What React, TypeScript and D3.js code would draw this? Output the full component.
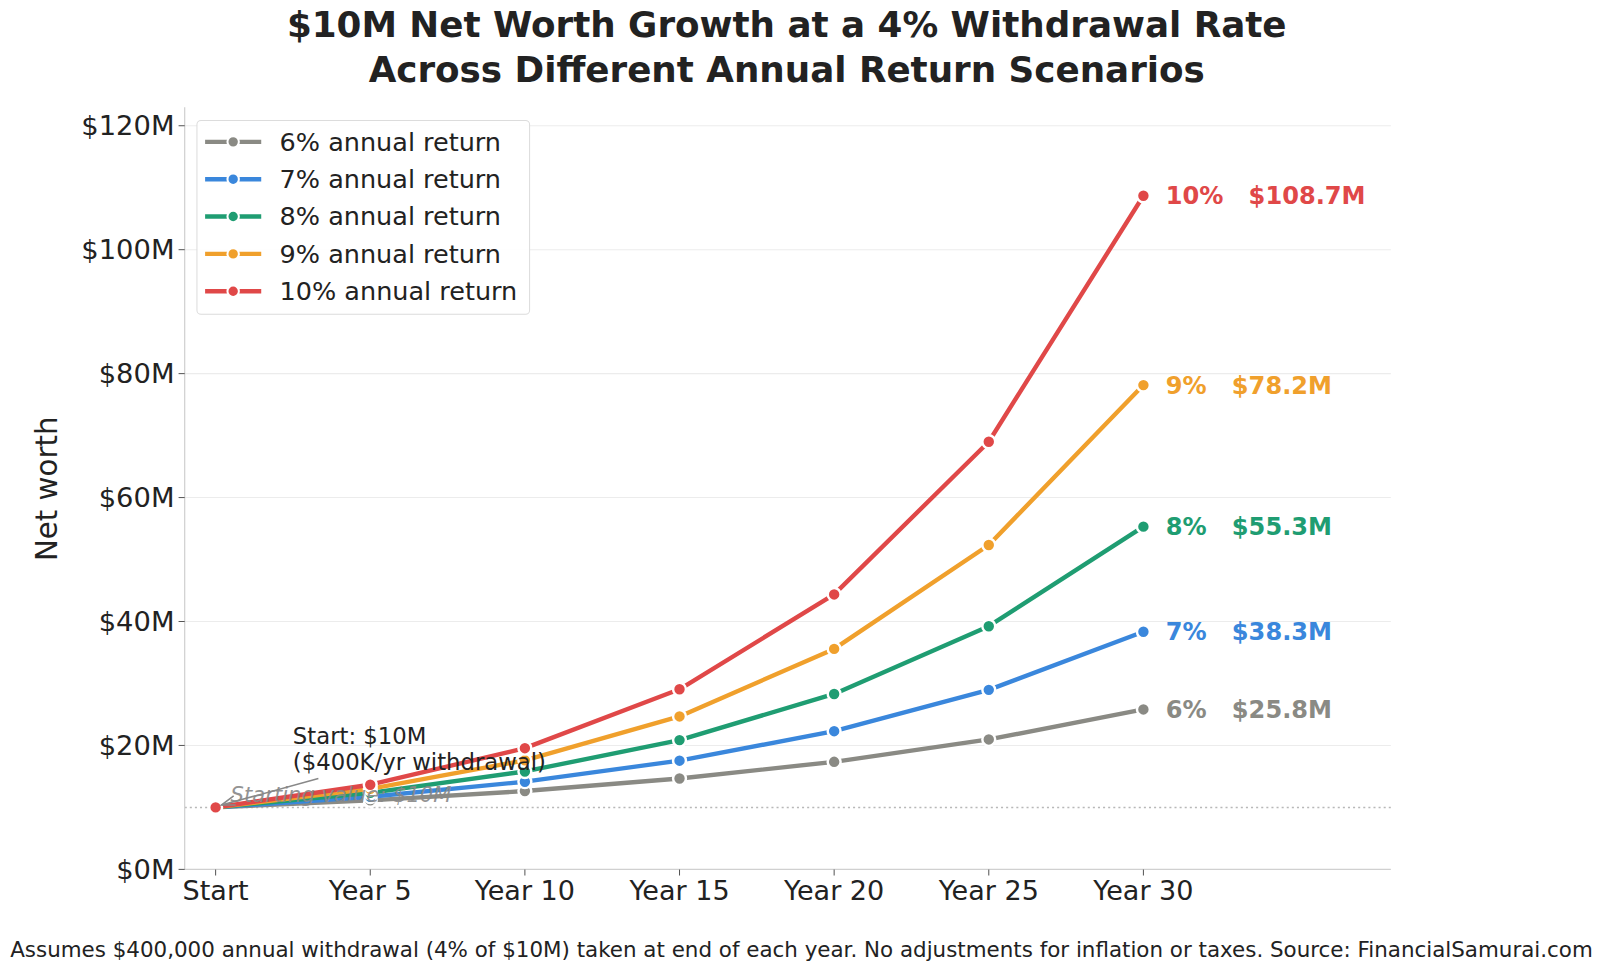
import React from "react";
import * as d3 from "d3";

const categories = ["Start", "Year 5", "Year 10", "Year 15", "Year 20", "Year 25", "Year 30"];
const seriesNames = ["6% annual return", "7% annual return", "8% annual return", "9% annual return", "10% annual return"];
const shortNames = ["6%", "7%", "8%", "9%", "10%"];
const colors = ["#8a8a84", "#3a87dc", "#1f9d72", "#f0a02c", "#e04848"];
const values6 = [10, 11.13, 12.64, 14.66, 17.36, 20.97, 25.81];
const values7 = [10, 11.73, 14.15, 17.54, 22.3, 28.97, 38.34];
const values8 = [10, 12.35, 15.8, 20.86, 28.31, 39.24, 55.31];
const values9 = [10, 12.99, 17.6, 24.68, 35.58, 52.35, 78.15];
const values10 = [10, 13.66, 19.56, 29.06, 44.37, 69.01, 108.7];
const allValues = [values6, values7, values8, values9, values10];
const yTicks = [0, 20, 40, 60, 80, 100, 120];

const W = 1600;
const H = 971;
const K = 1600 / 1568;
const left = 181, right = 1363, top = 105, bottom = 852;
const FONT = "'DejaVu Sans', sans-serif";

export default function App() {
  const x = d3.scaleLinear().domain([-0.2, 7.6]).range([left, right]);
  const y = d3.scaleLinear().domain([0, 123]).range([bottom, top]);
  const line = d3.line<number>().x((_, i) => x(i)).y((v) => y(v));

  return (
    <svg width={W} height={H} style={{ display: "block", position: "absolute", left: 0, top: 0 }} fontFamily={FONT}>
      <rect x={0} y={0} width={W} height={H} fill="#fff" />
      <g transform={`scale(${K})`}>
        {/* title */}
        <text x={771} y={36} textAnchor="middle" fontSize={35} fontWeight="bold" fill="#222">
          $10M Net Worth Growth at a 4% Withdrawal Rate
        </text>
        <text x={771} y={80} textAnchor="middle" fontSize={35} fontWeight="bold" fill="#222">
          Across Different Annual Return Scenarios
        </text>

        {/* grid */}
        {yTicks.map((t) => (
          <line key={"g" + t} x1={left} x2={right} y1={y(t)} y2={y(t)} stroke="#ececec" strokeWidth={1} />
        ))}
        {/* reference dotted line */}
        <line x1={left} x2={right} y1={y(10)} y2={y(10)} stroke="#b8b8b8" strokeWidth={1.5} strokeDasharray="2,3" />

        {/* spines */}
        <line x1={left} x2={left} y1={top} y2={bottom} stroke="#d0d0d0" strokeWidth={1.2} />
        <line x1={left} x2={right} y1={bottom} y2={bottom} stroke="#d0d0d0" strokeWidth={1.2} />

        {/* y ticks */}
        {yTicks.map((t) => (
          <g key={"y" + t}>
            <line x1={left - 6} x2={left} y1={y(t)} y2={y(t)} stroke="#555" strokeWidth={1} />
            <text x={left - 10} y={y(t)} dy="0.35em" textAnchor="end" fontSize={26.8} fill="#222">
              {"$" + t + "M"}
            </text>
          </g>
        ))}
        {/* x ticks */}
        {categories.map((c, i) => (
          <g key={"x" + c}>
            <line x1={x(i)} x2={x(i)} y1={bottom} y2={bottom + 6} stroke="#555" strokeWidth={1} />
            <text x={x(i)} y={882} textAnchor="middle" fontSize={26.5} fill="#222">
              {c}
            </text>
          </g>
        ))}
        <text transform={`translate(56,479) rotate(-90)`} textAnchor="middle" fontSize={28.7} fill="#222">
          Net worth
        </text>

        {/* series */}
        {allValues.map((vals, si) => (
          <g key={"s" + si}>
            <path d={line(vals) || ""} fill="none" stroke={colors[si]} strokeWidth={4.3} strokeLinejoin="round" strokeLinecap="butt" />
            {vals.map((v, i) => (
              <circle key={i} cx={x(i)} cy={y(v)} r={6.3} fill={colors[si]} stroke="#fff" strokeWidth={2.4} />
            ))}
            <text x={x(6) + 22} y={y(vals[6])} dy="0.35em" fontSize={23.6} fontWeight="bold" fill={colors[si]} style={{ whiteSpace: "pre" }}>
              {shortNames[si] + "   $" + vals[6].toFixed(1) + "M"}
            </text>
          </g>
        ))}

        {/* annotations */}
        <text x={226} y={786} fontSize={20.7} fontStyle="italic" fill="#888" opacity={0.9}>
          Starting value: $10M
        </text>
        <text x={287} y={729} fontSize={22.3} fill="#222">Start: $10M</text>
        <text x={287} y={755} fontSize={22.3} fill="#222">($400K/yr withdrawal)</text>
        <line x1={312} y1={763} x2={217} y2={789} stroke="#888" strokeWidth={1.5} />
        <path d="M 229 780 L 217 789 L 231 789" fill="none" stroke="#888" strokeWidth={1.5} />

        {/* legend */}
        <rect x={193} y={118} width={326} height={190} rx={4} fill="#fff" fillOpacity={0.9} stroke="#dcdcdc" strokeWidth={1} />
        {seriesNames.map((s, i) => {
          const ly = 139 + i * 36.6;
          return (
            <g key={"l" + s}>
              <line x1={201} x2={256} y1={ly} y2={ly} stroke={colors[i]} strokeWidth={4.3} />
              <circle cx={228.5} cy={ly} r={5.6} fill={colors[i]} stroke="#fff" strokeWidth={2} />
              <text x={274} y={ly} dy="0.35em" fontSize={25} fill="#222">{s}</text>
            </g>
          );
        })}

        {/* footer */}
        <text x={10} y={938} fontSize={21} fill="#222">
          Assumes $400,000 annual withdrawal (4% of $10M) taken at end of each year. No adjustments for inflation or taxes. Source: FinancialSamurai.com
        </text>
      </g>
    </svg>
  );
}
